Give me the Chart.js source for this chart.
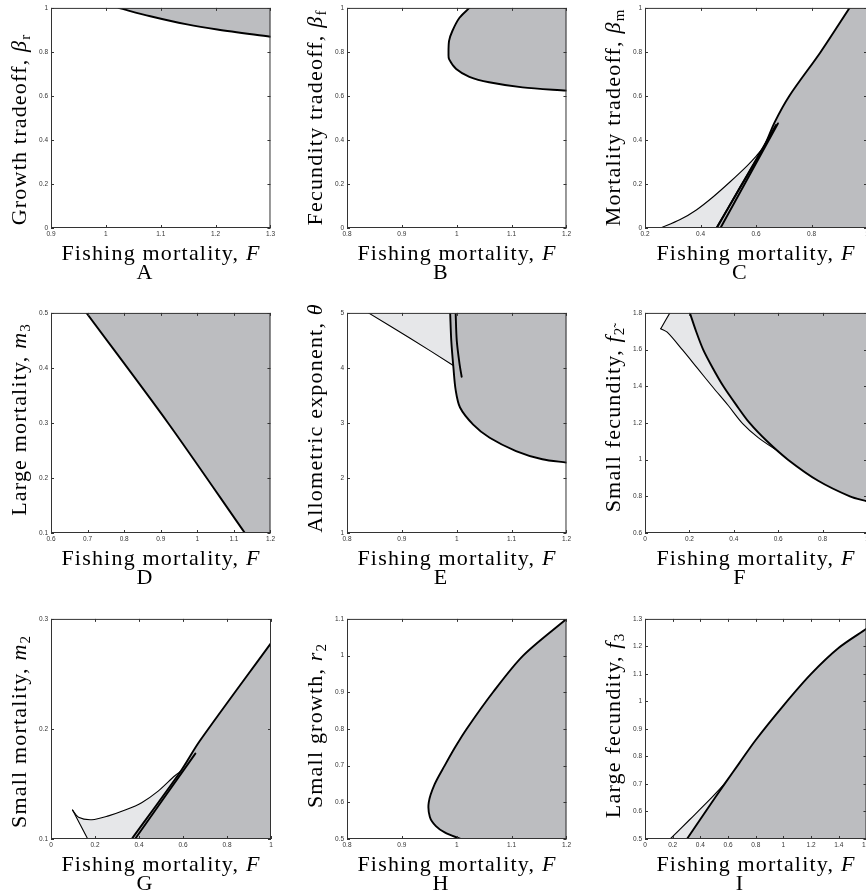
<!DOCTYPE html>
<html>
<head>
<meta charset="utf-8">
<script src="https://cdn.jsdelivr.net/npm/chart.js@4.4.0/dist/chart.umd.min.js"></script>
<style>
html,body{margin:0;padding:0;background:#fff;}
#wrap{position:relative;width:866px;height:894px;overflow:hidden;background:#fff;}
canvas{position:absolute;}
.lab{position:absolute;font-family:'Liberation Serif','Times New Roman',serif;font-size:22px;line-height:24px;height:24px;color:#000;white-space:nowrap;text-align:center;letter-spacing:1.2px;}
.lab sub{font-size:15px;vertical-align:-4px;line-height:0;letter-spacing:0;}
.ylab{transform:rotate(-90deg);}
</style>
</head>
<body>
<div id="wrap"></div>
<script>
// boundaries, pairs of [F, parameter]
const aBound = [[1.023,1],[1.081,0.962],[1.148,0.925],[1.203,0.902],[1.3,0.869]];
const bBound = [[1.023,1],[1.005,0.955],[0.992,0.895],[0.986,0.85],[0.985,0.789],[0.986,0.767],[0.999,0.722],[1.023,0.687],[1.059,0.662],[1.12,0.639],[1.2,0.624]];
const cMain  = [[0.937,1],[0.833,0.8],[0.72,0.6],[0.667,0.48],[0.629,0.37]];
const cThin  = [[0.256,0],[0.325,0.037],[0.385,0.082],[0.446,0.142],[0.507,0.21],[0.567,0.281],[0.6,0.325],[0.629,0.37]];
const cLeft  = [[0.458,0],[0.543,0.185],[0.672,0.468]];
const cRight = [[0.472,0],[0.679,0.475]];
const dBound = [[0.697,0.5],[0.92,0.3],[1.13,0.1]];
const eMain  = [[0.988,5],[0.99,4.5],[0.994,4],[0.998,3.6],[1.006,3.28],[1.03,2.97],[1.06,2.73],[1.108,2.49],[1.156,2.34],[1.2,2.28]];
const eTip   = [[0.998,5],[1,4.5],[1.005,4.08],[1.009,3.84]];
const eThin  = [[0.839,5],[0.915,4.54],[0.993,4.05]];
const fThick = [[0.202,1.8],[0.23,1.7],[0.262,1.6],[0.305,1.5],[0.353,1.4],[0.41,1.3],[0.471,1.2],[0.55,1.1],[0.644,1.0],[0.78,0.885],[0.923,0.8],[1,0.772]];
const fThin  = [[0.071,1.714],[0.1,1.695],[0.169,1.598],[0.235,1.5],[0.305,1.396],[0.375,1.295],[0.441,1.195],[0.51,1.12],[0.6,1.045]];
const fLeft  = [[0.071,1.714],[0.112,1.8]];
const gMain  = [[0.367,0.1],[0.5855,0.1604],[0.676,0.189],[1,0.278]];
const gPair  = [[0.382,0.1],[0.656,0.1776]];
const gThin  = [[0.098,0.1263],[0.125,0.1197],[0.186,0.1175],[0.261,0.121],[0.34,0.1265],[0.412,0.133],[0.487,0.1435],[0.563,0.1575],[0.59,0.1616]];
const gLeft  = [[0.098,0.1263],[0.167,0.1]];
const hBound = [[1.2,1.1],[1.121,1.0],[1.066,0.9],[1.018,0.8],[0.997,0.75],[0.978,0.7],[0.96,0.65],[0.949,0.6],[0.951,0.56],[0.962,0.535],[0.978,0.518],[1.007,0.5]];
const iThick = [[0.303,0.5],[0.438,0.6],[0.579,0.703],[0.68,0.775],[0.8,0.86],[1.0,0.985],[1.2,1.1],[1.4,1.195],[1.6,1.264]];
const iThin  = [[0.182,0.5],[0.322,0.57],[0.467,0.643],[0.579,0.703]];

// tick values
const aTicksX = [0.9,1,1.1,1.2,1.3],           aTicksY = [0,0.2,0.4,0.6,0.8,1];
const bTicksX = [0.8,0.9,1,1.1,1.2],           bTicksY = [0,0.2,0.4,0.6,0.8,1];
const cTicksX = [0.2,0.4,0.6,0.8,1],           cTicksY = [0,0.2,0.4,0.6,0.8,1];
const dTicksX = [0.6,0.7,0.8,0.9,1,1.1,1.2],   dTicksY = [0.1,0.2,0.3,0.4,0.5];
const eTicksX = [0.8,0.9,1,1.1,1.2],           eTicksY = [1,2,3,4,5];
const fTicksX = [0,0.2,0.4,0.6,0.8,1],         fTicksY = [0.6,0.8,1,1.2,1.4,1.6,1.8];
const gTicksX = [0,0.2,0.4,0.6,0.8,1],         gTicksY = [0.1,0.2,0.3];
const hTicksX = [0.8,0.9,1,1.1,1.2],           hTicksY = [0.5,0.6,0.7,0.8,0.9,1,1.1];
const iTicksX = [0,0.2,0.4,0.6,0.8,1,1.2,1.4,1.6], iTicksY = [0.5,0.6,0.7,0.8,0.9,1,1.1,1.2,1.3];

const xTitle = 'Fishing mortality, <i>F</i>';
const letters = ['A','B','C','D','E','F','G','H','I'];
const yTitles = [
  'Growth tradeoff, <i>β</i><sub>r</sub>',
  'Fecundity tradeoff, <i>β</i><sub>f</sub>',
  'Mortality tradeoff, <i>β</i><sub>m</sub>',
  'Large mortality, <i>m</i><sub>3</sub>',
  'Allometric exponent, <i>θ</i>',
  'Small fecundity, <i>f</i><sub>2\u0303</sub>',
  'Small mortality, <i>m</i><sub>2</sub>',
  'Small growth, <i>r</i><sub>2</sub>',
  'Large fecundity, <i>f</i><sub>3</sub>'
];

const DARK = '#bcbdc0', LIGHT = '#e6e7e9';
const cols = [51,347,645], colW = [220,220,222], rows = [7,312,618], plotH = 221;
const TENSION = 0.3;

// point one step past the end of a curve, along its last segment
const extOf = c => { const a = c[c.length - 2], b = c[c.length - 1]; return [2*b[0] - a[0], 2*b[1] - a[1]]; };
// region polygon: the curve itself, carried on past its end, then round outside the axes
// (a null y means: same height as the extension point)
function region(curve, outer) {
  const e = extOf(curve);
  return curve.concat([e], outer.map(([x, y]) => [x, y === null ? e[1] : y]));
}
const cMainFull = cMain.concat(cLeft.slice(0, 2).reverse());

const panels = [
  {xt:aTicksX, yt:aTicksY, yShift:12, thick:[aBound], thin:[],
   dark: O => region(aBound, [[O.r,O.t],[aBound[0][0],O.t]])},
  {xt:bTicksX, yt:bTicksY, yShift:0, thick:[bBound], thin:[],
   dark: O => region(bBound, [[O.r,O.t],[bBound[0][0],O.t]])},
  {xt:cTicksX, yt:cTicksY, yShift:0, thick:[cMainFull, cLeft, cRight], thin:[cThin],
   dark: O => region(cMainFull, [[O.r,O.b],[O.r,O.t],[cMain[0][0],O.t]]),
   light: O => region(cThin, [[O.r,null],[O.r,O.b],[cThin[0][0],O.b]])},
  {xt:dTicksX, yt:dTicksY, yShift:-3, thick:[dBound], thin:[],
   dark: O => region(dBound, [[O.r,O.b],[O.r,O.t],[dBound[0][0],O.t]])},
  {xt:eTicksX, yt:eTicksY, yShift:-5, thick:[eMain, eTip], thin:[eThin],
   dark: O => region(eMain, [[O.r,O.t],[eMain[0][0],O.t]]),
   light: O => region(eThin, [[O.r,null],[O.r,O.t],[eThin[0][0],O.t]])},
  {xt:fTicksX, yt:fTicksY, yShift:-3, thick:[fThick], thin:[fThin, fLeft],
   dark: O => region(fThick, [[O.r,O.t],[fThick[0][0],O.t]]),
   light: O => region(fThin, [[O.r,null],[O.r,O.t],extOf(fLeft)])},
  {xt:gTicksX, yt:gTicksY, yShift:3, thick:[gMain, gPair], thin:[gThin, gLeft],
   dark: O => region(gMain, [[O.r,O.b]]),
   light: O => region(gThin, [[O.r,null],[O.r,O.b],extOf(gLeft)])},
  {xt:hTicksX, yt:hTicksY, yShift:-3, thick:[hBound], thin:[],
   dark: O => region(hBound, [[O.r,O.b]])},
  {xt:iTicksX, yt:iTicksY, yShift:-3, thick:[iThick], thin:[iThin],
   dark: O => region(iThick, [[O.r,O.b]]),
   light: O => region(iThin, [[O.r,null],[O.r,O.b],[iThin[0][0],O.b]])}
];

const fmt = v => String(parseFloat(Number(v).toFixed(3)));
const pts = arr => arr.map(([x,y]) => ({x, y}));

// matlab style frame with inward ticks on all four sides
const boxPlugin = {
  id: 'box',
  afterDatasetsDraw(chart) {
    const {ctx, chartArea: a, scales: {x, y}} = chart;
    ctx.save();
    ctx.strokeStyle = '#333';
    ctx.lineWidth = 1;
    ctx.strokeRect(a.left + 0.5, a.top + 0.5, a.right - a.left - 1, a.bottom - a.top - 1);
    ctx.beginPath();
    x.ticks.forEach(t => {
      const px = Math.round(x.getPixelForValue(t.value)) + 0.5;
      ctx.moveTo(px, a.bottom); ctx.lineTo(px, a.bottom - 3);
      ctx.moveTo(px, a.top); ctx.lineTo(px, a.top + 3);
    });
    y.ticks.forEach(t => {
      const py = Math.round(y.getPixelForValue(t.value)) + 0.5;
      ctx.moveTo(a.left, py); ctx.lineTo(a.left + 3, py);
      ctx.moveTo(a.right, py); ctx.lineTo(a.right - 3, py);
    });
    ctx.stroke();
    ctx.restore();
  }
};

function lineDs(l, w) {
  return {data: pts(l), borderColor: '#000', borderWidth: w, pointRadius: 0, fill: false,
          tension: TENSION, order: 1, borderJoinStyle: 'round', borderCapStyle: 'round'};
}
function fillDs(poly, color, order) {
  return {data: pts(poly), borderColor: 'rgba(0,0,0,0)', borderWidth: 0, backgroundColor: color,
          pointRadius: 0, fill: 'shape', tension: TENSION, order};
}

const wrap = document.getElementById('wrap');

function addLabel(html, cls, left, top, width) {
  const d = document.createElement('div');
  d.className = cls;
  d.innerHTML = html;
  d.style.left = left + 'px';
  d.style.top = top + 'px';
  d.style.width = width + 'px';
  wrap.appendChild(d);
}

panels.forEach((p, i) => {
  const col = i % 3, row = Math.floor(i / 3);
  const L = cols[col], T = rows[row], W = colW[col];
  const cv = document.createElement('canvas');
  cv.width = W + 36;
  cv.height = plotH + 20;
  cv.style.left = (L - 30) + 'px';
  cv.style.top = (T - 6) + 'px';
  wrap.appendChild(cv);

  const x0 = p.xt[0], x1 = p.xt[p.xt.length - 1], y0 = p.yt[0], y1 = p.yt[p.yt.length - 1];
  // limits a little outside the axes, used to close the shaded regions
  const O = {l: x0 - (x1 - x0) * 0.1, r: x1 + (x1 - x0) * 0.1, b: y0 - (y1 - y0) * 0.1, t: y1 + (y1 - y0) * 0.1};

  const datasets = [];
  p.thick.forEach(l => datasets.push(lineDs(l, 1.9)));
  p.thin.forEach(l => datasets.push(lineDs(l, 1.1)));
  datasets.push(fillDs(p.dark(O), DARK, 2));
  if (p.light) datasets.push(fillDs(p.light(O), LIGHT, 3));

  const tickFont = {size: 6.5, family: "'Liberation Sans', Arial, sans-serif"};
  new Chart(cv, {
    type: 'line',
    data: {datasets},
    options: {
      responsive: false,
      animation: false,
      events: [],
      layout: {padding: {top: 6, right: 6, left: 0, bottom: 0}},
      plugins: {legend: {display: false}, tooltip: {enabled: false}},
      scales: {
        x: {
          type: 'linear', min: x0, max: x1,
          afterBuildTicks: s => { s.ticks = p.xt.map(v => ({value: v})); },
          afterFit: s => { s.height = 14; },
          grid: {display: false, drawTicks: false}, border: {display: false},
          ticks: {font: tickFont, color: '#333', padding: 2, maxRotation: 0, autoSkip: false, callback: fmt}
        },
        y: {
          type: 'linear', min: y0, max: y1,
          afterBuildTicks: s => { s.ticks = p.yt.map(v => ({value: v})); },
          afterFit: s => { s.width = 30; },
          grid: {display: false, drawTicks: false}, border: {display: false},
          ticks: {font: tickFont, color: '#333', padding: 3, autoSkip: false, callback: fmt}
        }
      }
    },
    plugins: [boxPlugin]
  });

  const cx = L + W / 2;
  addLabel(xTitle, 'lab', cx - 150, T + plotH + 13, 300);
  addLabel(letters[i], 'lab', cx - 16 - 20, T + plotH + 32, 40);
  addLabel(yTitles[i], 'lab ylab', L - 32 - 150, T + plotH / 2 + p.yShift - 12, 300);
});
</script>
</body>
</html>
